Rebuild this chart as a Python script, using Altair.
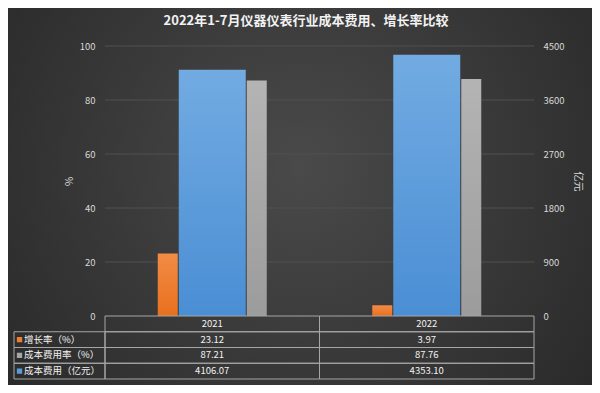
import altair as alt
import pandas as pd

# ---- data ----
years = ["2021", "2022"]
growth_rate = [23.12, 3.97]        # 增长率 (%)
cost_rate = [87.21, 87.76]         # 成本费用率 (%)
cost = [4106.07, 4353.10]          # 成本费用 (亿元)

series_names = ["增长率（%）", "成本费用率（%）", "成本费用（亿元）"]
series_colors = ["#ED7D31", "#A5A5A5", "#5B9BD5"]
header_key = "年份"

pct_ticks = [0, 20, 40, 60, 80, 100]
amt_ticks = [0, 900, 1800, 2700, 3600, 4500]

FONT = "Noto Sans CJK SC"
LABEL = "#d9d9d9"
LINE = "#a6a6a6"

bars = pd.DataFrame({"year": years, "growth": growth_rate, "rate": cost_rate, "cost": cost})
grid_df = pd.DataFrame({"v": pct_ticks[1:]})

W, H = 429, 270

x_enc = alt.X("year:N", scale=alt.Scale(domain=years, paddingInner=0, paddingOuter=0), axis=None)


def grad(top, bottom):
    return alt.LinearGradient(
        gradient="linear", x1=0, x2=0, y1=0, y2=1,
        stops=[alt.GradientStop(color=top, offset=0), alt.GradientStop(color=bottom, offset=1)],
    )


# decorative background panel (radial shading like the original)
bg_fill = alt.RadialGradient(
    gradient="radial", x1=0.5, y1=0.45, r1=0, x2=0.5, y2=0.45, r2=0.72,
    stops=[alt.GradientStop(color="#4a4a4a", offset=0), alt.GradientStop(color="#252525", offset=1)],
)
bg = alt.Chart(pd.DataFrame({"a": [0]})).mark_rect(fill=bg_fill).encode(
    x=alt.value(-97), x2=alt.value(487), y=alt.value(-38), y2=alt.value(339))

pct_scale = alt.Scale(domain=[0, 100], nice=False)
left_axis = alt.Axis(values=pct_ticks, format="d", title="%", grid=False, domain=False, zindex=1,
                     ticks=False, tickSize=0, labelPadding=10, labelColor=LABEL, labelFontSize=9.5,
                     labelFont=FONT, titleColor=LABEL, titleFont=FONT, titleFontSize=10,
                     titleFontWeight="normal", titlePadding=5)

grid = alt.Chart(grid_df).mark_rule(color="#505050", strokeWidth=1).encode(
    y=alt.Y("v:Q", scale=pct_scale, axis=left_axis))
orange = alt.Chart(bars).mark_bar(size=20, xOffset=-44.5, color=grad("#F28C45", "#E8701E")).encode(
    x=x_enc, y=alt.Y("growth:Q", scale=pct_scale, axis=left_axis))
gray = alt.Chart(bars).mark_bar(size=20, xOffset=44.5, color=grad("#B4B4B4", "#9C9C9C")).encode(
    x=x_enc, y=alt.Y("rate:Q", scale=pct_scale, axis=left_axis))
blue = alt.Chart(bars).mark_bar(size=67, color=grad("#72ABE2", "#4A8ED4")).encode(
    x=x_enc,
    y=alt.Y("cost:Q", scale=alt.Scale(domain=[0, 4500], nice=False),
            axis=alt.Axis(orient="right", values=amt_ticks, format="d", title="亿元", grid=False,
                          domain=False, ticks=False, tickSize=0, labelPadding=9, labelColor=LABEL,
                          labelFontSize=9.5, labelFont=FONT, titleColor=LABEL, titleFont=FONT,
                          titleFontSize=10, titleFontWeight="normal", titlePadding=8, zindex=1)))

top = alt.layer(bg, alt.layer(grid, orange, gray), blue).resolve_scale(y="independent").properties(
    width=W, height=H)

# ---- table ----
row_order = [header_key] + series_names
cells = []
for y in years:
    cells.append({"row": header_key, "year": y, "text": y})
for name, vals in zip(series_names, [growth_rate, cost_rate, cost]):
    for y, v in zip(years, vals):
        cells.append({"row": name, "year": y, "text": f"{v:.2f}"})
cells = pd.DataFrame(cells)
legend_rows = pd.DataFrame({"row": series_names, "color": series_colors})

ty = alt.Y("row:N", scale=alt.Scale(domain=row_order, paddingInner=0, paddingOuter=0), axis=None)
tx = alt.X("year:N", scale=alt.Scale(domain=years, paddingInner=0, paddingOuter=0), axis=None)

cell_rect = alt.Chart(cells).mark_rect(fill="transparent", stroke=LINE, strokeWidth=1).encode(x=tx, y=ty)
cell_text = alt.Chart(cells).mark_text(color="#f2f2f2", font=FONT, fontSize=9.5, baseline="middle").encode(
    x=tx, y=ty, text="text:N")
leg_rect = alt.Chart(legend_rows).mark_rect(fill="transparent", stroke=LINE, strokeWidth=1).encode(
    x=alt.value(-91), x2=alt.value(0), y=ty)
leg_sq = alt.Chart(legend_rows).mark_square(size=28, opacity=1).encode(
    x=alt.value(-85.5), y=ty,
    color=alt.Color("row:N", scale=alt.Scale(domain=series_names, range=series_colors), legend=None))
leg_text = alt.Chart(legend_rows).mark_text(color="#f2f2f2", font=FONT, fontSize=9.5, align="left",
                                            baseline="middle").encode(
    x=alt.value(-81), y=ty, text="row:N")

table = alt.layer(cell_rect, cell_text, leg_rect, leg_sq, leg_text).properties(width=W, height=63)

chart = alt.vconcat(top, table, spacing=0, bounds="flush").properties(
    title=alt.Title("2022年1-7月仪器仪表行业成本费用、增长率比较", anchor="middle", dx=6),
    padding=0,
    background="#2a2a2a",
).configure_view(stroke=None).configure_title(
    font=FONT, fontSize=13, fontWeight="bold", color="#f2f2f2", offset=-20
)

chart.save("out.html", embed_options={"renderer": "svg", "actions": False})
